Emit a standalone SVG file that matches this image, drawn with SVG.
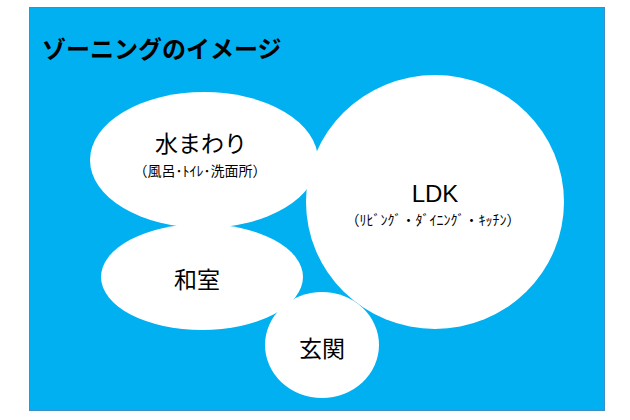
<svg xmlns="http://www.w3.org/2000/svg" width="630" height="420" viewBox="0 0 630 420">
<style>
.bg{fill:#00b0f0;stroke:#3c8fc8;stroke-width:1}
.zone{fill:#ffffff}
text{font-family:"Noto Sans CJK JP","Liberation Sans",sans-serif;fill:#000;text-anchor:middle}
.title{font-size:24px;font-weight:bold;text-anchor:start}
.main{font-size:23px}
.sub{font-size:14px}
</style>
<rect width="630" height="420" fill="#ffffff"/>
<rect class="bg" x="29.5" y="7.5" width="575" height="403"/>
<text class="title" x="42" y="58">ゾーニングのイメージ</text>
<g id="mizumawari">
<ellipse class="zone" cx="204" cy="160" rx="114" ry="68"/>
<text class="main" x="201" y="152">水まわり</text>
<text class="sub" x="200" y="176">（風呂･ﾄｲﾚ･洗面所）</text>
</g>
<g id="washitsu">
<ellipse class="zone" cx="202" cy="277" rx="101" ry="53"/>
<text class="main" x="197" y="288">和室</text>
</g>
<g id="ldk">
<ellipse class="zone" cx="435" cy="202" rx="129" ry="127"/>
<text class="main" x="435" y="202" style="font-family:'Liberation Sans',sans-serif;font-size:24px">LDK</text>
<text class="sub" x="433" y="225">（ﾘﾋﾞﾝｸﾞ・ﾀﾞｲﾆﾝｸﾞ・ｷｯﾁﾝ）</text>
</g>
<g id="genkan">
<ellipse class="zone" cx="322" cy="345" rx="57" ry="53"/>
<text class="main" x="322" y="357">玄関</text>
</g>
<g id="connectors"/>
</svg>
